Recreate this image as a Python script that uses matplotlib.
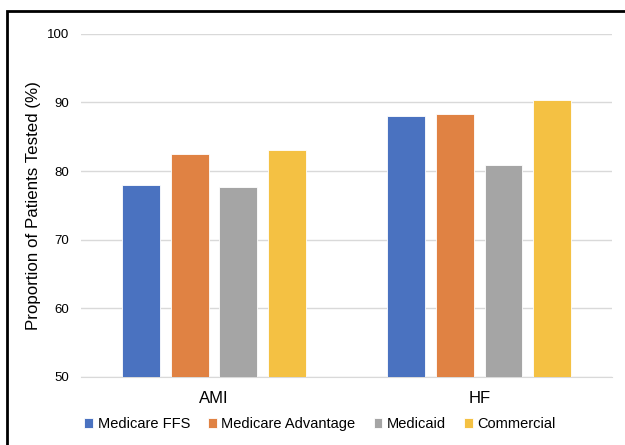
import numpy as np
import matplotlib
matplotlib.use("Agg")
import matplotlib.pyplot as plt
from matplotlib.patches import Rectangle

plt.rcParams['font.family'] = ['Liberation Sans', 'DejaVu Sans']

categories = ['AMI', 'HF']
payers = ['Medicare FFS', 'Medicare Advantage', 'Medicaid', 'Commercial']
values = {
    'Medicare FFS': [78.0, 88.0],
    'Medicare Advantage': [82.5, 88.3],
    'Medicaid': [77.7, 80.9],
    'Commercial': [83.0, 90.4],
}
colors = ['#4A72C0', '#E08243', '#A5A5A5', '#F4C143']
yticks = [50, 60, 70, 80, 90, 100]

fig = plt.figure(figsize=(6.25, 4.45), dpi=100)
ax = fig.add_axes([0.13, 0.153, 0.849, 0.771])

x = np.arange(len(categories))
width = 0.143
step = 0.183
for i, p in enumerate(payers):
    ax.bar(x + (i - 1.5) * step, values[p], width, color=colors[i], label=p,
           edgecolor='white', linewidth=0.6, zorder=3)

ax.set_xlim(-0.5, 1.5)
ax.set_ylim(50, 100)
ax.set_yticks(yticks)
ax.set_yticklabels([str(t) for t in yticks], fontsize=9.5)
ax.set_xticks(x)
ax.set_xticklabels(categories, fontsize=12)
ax.tick_params(axis='both', length=0)
ax.tick_params(axis='y', pad=9)
ax.tick_params(axis='x', pad=10)
ax.grid(axis='y', color='#D9D9D9', linewidth=1, zorder=0)
for s in ['top', 'right', 'left']:
    ax.spines[s].set_visible(False)
ax.spines['bottom'].set_color('#D9D9D9')
ax.set_ylabel('Proportion of Patients Tested (%)', fontsize=12.2, labelpad=4)

leg = fig.legend(loc='center', bbox_to_anchor=(0.512, 0.047), ncol=4, frameon=False,
                 fontsize=10.5, handlelength=0.6, handleheight=0.6, handletextpad=0.3,
                 columnspacing=1.25)

# outer frame of the original figure
fig.patches.append(Rectangle((0.011, -0.1), 1.1, 1.075, transform=fig.transFigure,
                             fill=False, edgecolor='black', linewidth=2))

fig.savefig('out.png', dpi=100)
